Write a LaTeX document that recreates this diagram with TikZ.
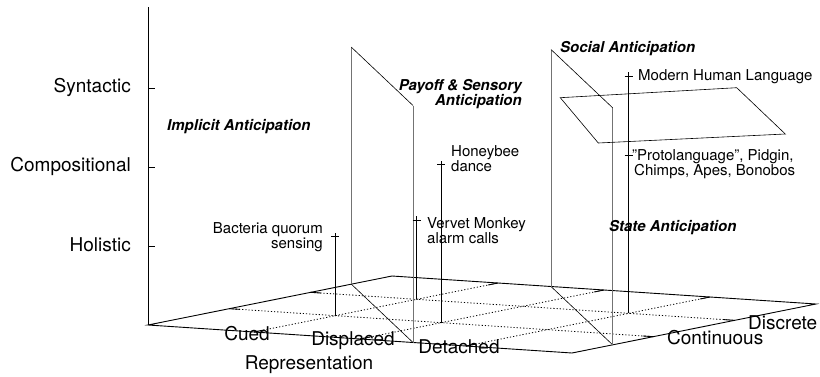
\documentclass[tikz,border=0pt]{standalone}
\usepackage{fontspec}
\setmainfont{TeX Gyre Heros}
\usetikzlibrary{positioning}

\begin{document}
\begin{tikzpicture}[x=1pt, y=1pt,
    axislabel/.style={font=\fontsize{19}{21}\selectfont, inner sep=0pt},
    ptlabel/.style={font=\fontsize{15}{15.5}\selectfont, inner sep=0pt, align=left},
    regionlabel/.style={font=\fontsize{15}{15.5}\selectfont\bfseries\itshape, inner sep=0pt},
    floorline/.style={line width=0.9pt},
    gridline/.style={line width=0.8pt, dash pattern=on 1.2pt off 2pt},
    sheetside/.style={line width=0.8pt, black!55},
    sheetline/.style={line width=0.6pt},
    impulse/.style={line width=0.7pt}]
  \useasboundingbox (0,0) rectangle (820,376);

  \begin{scope}[shift={(148,51)}, x={(106pt,-7pt)}, y={(81.333pt,16.333pt)}, z={(0pt,79pt)}]
    % floor and grid
    \coordinate (o) at (0,0,0);
    \coordinate (fr) at (4,0,0);
    \coordinate (br) at (4,3,0);
    \coordinate (bl) at (0,3,0);
    \foreach \u in {1,2,3}
      \draw[gridline] (\u,0,0) -- (\u,3,0);
    \foreach \v in {1,2}
      \draw[gridline] (0,\v,0) -- (4,\v,0);
    \foreach \u in {1,2,3} {
      \draw[floorline] (\u,0,0) -- (\u,0.12,0);
      \draw[floorline] (\u,3,0) -- (\u,2.88,0);
    }
    \foreach \v in {1,2} {
      \draw[floorline] (0,\v,0) -- (0.1,\v,0);
      \draw[floorline] (4,\v,0) -- (3.9,\v,0);
    }
    \draw[floorline] (o) -- (fr) -- (br) -- (bl) -- cycle;

    % vertical axis
    \draw[floorline] (o) -- (0,0,4.02);
    \foreach \h in {1,2,3}
      \draw[floorline] (0,0,\h) -- ++(7pt,0pt);

    % first boundary sheet
    \draw[sheetline] (0,2.5,0) -- (2.5,0,0);
    \draw[sheetside] (0,2.5,0) -- (0,2.5,3);
    \draw[sheetside] (2.5,0,0) -- (2.5,0,3);
    \draw[sheetline] (0,2.5,3) -- (2.5,0,3);

    % second boundary sheet
    \draw[sheetline] (1.5,3,0) -- (4,0.5,0);
    \draw[sheetside] (1.5,3,0) -- (1.5,3,3);
    \draw[sheetside] (4,0.5,0) -- (4,0.5,3);
    \draw[sheetline] (1.5,3,3) -- (4,0.5,3);

    % impulses
    \coordinate (bact) at (1,1,1);
    \coordinate (vervet) at (1,2,1);
    \coordinate (bee) at (2,1,2);
    \coordinate (proto) at (3,2,2);
    \coordinate (human) at (3,2,3);
    \draw[impulse] (1,1,0) -- (bact);
    \draw[impulse] (1,2,0) -- (vervet);
    \draw[impulse] (2,1,0) -- (bee);
    \draw[impulse] (3,2,0) -- (human);
    \foreach \p in {bact,vervet,bee,proto,human}
      \draw[sheetline] (\p) ++(-4pt,0pt) -- ++(8pt,0pt) (\p) ++(0pt,-4pt) -- ++(0pt,8pt);
  \end{scope}

  % language plane
  \draw[sheetline] (560.3,278.3) -- (736.7,288.3) -- (785.3,242) -- (598.3,233) -- cycle;

  % axis labels
  \node[axislabel, anchor=east] (syn) at (131,289) {Syntactic};
  \node[axislabel, anchor=east] (comp) at (131,210) {Compositional};
  \node[axislabel, anchor=east] (hol) at (131,131) {Holistic};
  \node[axislabel] (cued) at (247,42) {Cued};
  \node[axislabel] (displ) at (353,35) {Displaced};
  \node[axislabel] (detach) at (459,29) {Detached};
  \node[axislabel] (repr) at (309,11) {Representation};
  \node[axislabel, anchor=west] (cont) at (667,38) {Continuous};
  \node[axislabel, anchor=west] (discr) at (748,53) {Discrete};

  % region labels
  \node[regionlabel, anchor=east, align=right] (payoff) at (522,282) {Payoff \& Sensory\\Anticipation};
  \node[regionlabel, anchor=west] (implicit) at (167,249) {Implicit Anticipation};
  \node[regionlabel, anchor=west] (social) at (560,327) {Social Anticipation};
  \node[regionlabel, anchor=west] (state) at (609,148) {State Anticipation};

  % point labels
  \node[ptlabel, anchor=east, align=right] (bactlbl) at (323,139) {Bacteria quorum\\sensing};
  \node[ptlabel, anchor=west] (vervetlbl) at (427,145.5) {Vervet Monkey\\alarm calls};
  \node[ptlabel, anchor=west] (beelbl) at (451,217.5) {Honeybee\\dance};
  \node[ptlabel, anchor=west] (humanlbl) at (638,299) {Modern Human Language};
  \node[ptlabel, anchor=west] (protolbl) at (632,212) {\symbol{"22}Protolanguage\symbol{"22}, Pidgin,\\\hspace*{2pt}Chimps, Apes, Bonobos};
\end{tikzpicture}
\end{document}
